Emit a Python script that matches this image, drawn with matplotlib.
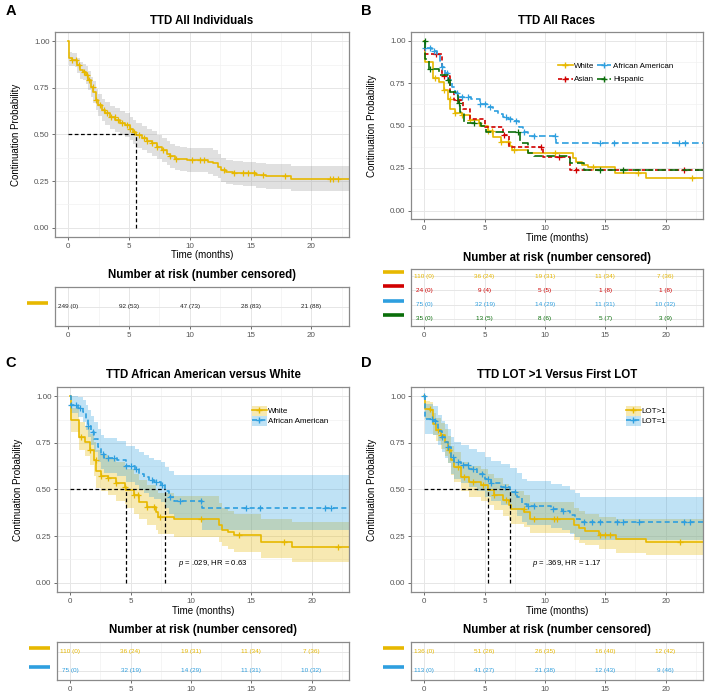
import numpy as np
import matplotlib
matplotlib.use('Agg')
import matplotlib.pyplot as plt
import matplotlib.transforms as mtransforms
from matplotlib.patches import Patch
from matplotlib.lines import Line2D

plt.rcParams['font.family'] = ['Liberation Sans', 'DejaVu Sans']
plt.rcParams['mathtext.fontset'] = 'custom'
plt.rcParams['mathtext.it'] = 'Liberation Sans:italic'
plt.rcParams['mathtext.rm'] = 'Liberation Sans'

# ---- values ----
t_end = 23.1
month_ticks = [0, 5, 10, 15, 20]
prob_ticks = [0, 0.25, 0.5, 0.75, 1.0]
prob_labels = ['0.00', '0.25', '0.50', '0.75', '1.00']

# A: all individuals (step times, survival, confidence band)
all_t = [0, 0.05, 0.27, 0.55, 0.74, 0.96, 1.23, 1.45, 1.64, 1.84, 2.05, 2.27, 2.47, 2.74,
         3.01, 3.42, 3.84, 4.25, 4.66, 5.07, 5.34, 5.56, 6.03, 6.44, 6.85, 7.26, 7.67,
         8.08, 8.36, 8.77, 9.18, 9.73, 11.51, 11.92, 12.33, 12.6, 13.01, 13.56, 14.38,
         15.48, 16.3, 18.36]
all_s = [1.0, 0.91, 0.902, 0.898, 0.871, 0.845, 0.834, 0.818, 0.791, 0.755, 0.729, 0.684,
         0.657, 0.63, 0.613, 0.595, 0.577, 0.563, 0.55, 0.532, 0.514, 0.496, 0.479, 0.466,
         0.452, 0.434, 0.416, 0.398, 0.384, 0.371, 0.366, 0.362, 0.354, 0.345, 0.327,
         0.309, 0.30, 0.295, 0.291, 0.282, 0.277, 0.261]
all_lo = [1.0, 0.87, 0.865, 0.86, 0.83, 0.80, 0.79, 0.77, 0.74, 0.70, 0.67, 0.63, 0.60,
          0.57, 0.55, 0.53, 0.515, 0.50, 0.485, 0.47, 0.45, 0.43, 0.415, 0.40, 0.385, 0.37,
          0.35, 0.335, 0.32, 0.31, 0.305, 0.30, 0.29, 0.28, 0.265, 0.245, 0.235, 0.23,
          0.225, 0.215, 0.21, 0.195]
all_hi = [1.0, 0.945, 0.94, 0.935, 0.91, 0.89, 0.88, 0.865, 0.84, 0.81, 0.785, 0.745,
          0.715, 0.69, 0.675, 0.655, 0.64, 0.625, 0.615, 0.595, 0.58, 0.56, 0.545, 0.53,
          0.52, 0.50, 0.48, 0.465, 0.45, 0.44, 0.435, 0.43, 0.425, 0.415, 0.395, 0.375,
          0.365, 0.36, 0.355, 0.345, 0.34, 0.33]
all_cens = [0.3, 0.6, 0.9, 1.3, 1.5, 1.7, 2.0, 2.3, 2.6, 2.9, 3.2, 3.5, 3.8, 4.1, 4.4, 4.8,
            5.1, 5.4, 5.8, 6.2, 6.5, 6.9, 7.3, 7.8, 8.4, 8.9, 10.2, 10.8, 11.2, 12.8, 13.6,
            14.4, 14.8, 15.3, 16.0, 17.8, 21.5, 21.8, 22.2]
all_median = [5.56]

# White
white_t = [0, 0.05, 0.75, 1.2, 1.6, 1.95, 2.15, 2.55, 3.1, 3.8, 4.5, 4.64, 5.3, 5.7, 6.4,
           7.1, 7.25, 8.6, 12.3, 12.6, 13.1, 13.6, 15.8, 18.4]
white_s = [1.0, 0.875, 0.78, 0.755, 0.71, 0.656, 0.60, 0.575, 0.56, 0.535, 0.513, 0.495,
           0.47, 0.433, 0.405, 0.38, 0.353, 0.34, 0.31, 0.285, 0.27, 0.255, 0.22, 0.19]
white_lo = [1.0, 0.81, 0.71, 0.68, 0.63, 0.57, 0.51, 0.49, 0.47, 0.44, 0.42, 0.40, 0.37,
            0.34, 0.31, 0.285, 0.26, 0.245, 0.22, 0.195, 0.18, 0.165, 0.135, 0.11]
white_hi = [1.0, 0.94, 0.86, 0.84, 0.80, 0.755, 0.71, 0.685, 0.67, 0.645, 0.625, 0.61,
            0.585, 0.55, 0.525, 0.50, 0.48, 0.465, 0.43, 0.40, 0.385, 0.37, 0.34, 0.326]
white_cens = [0.9, 1.6, 2.1, 2.55, 3.1, 3.8, 4.5, 5.3, 5.6, 6.4, 6.95, 7.4, 10.8, 14.0, 17.7, 22.2]

# African American
aa_t = [0, 0.05, 0.63, 1.04, 1.3, 1.5, 1.7, 2.0, 2.3, 2.55, 2.8, 3.9, 4.6, 5.4, 5.7, 6.1,
        6.5, 6.95, 7.5, 7.83, 8.2, 8.6, 10.95]
aa_s = [1.0, 0.955, 0.94, 0.915, 0.88, 0.843, 0.807, 0.77, 0.727, 0.69, 0.67, 0.656, 0.624,
        0.61, 0.585, 0.567, 0.55, 0.54, 0.525, 0.49, 0.46, 0.437, 0.40]
aa_lo = [1.0, 0.91, 0.89, 0.86, 0.82, 0.78, 0.74, 0.70, 0.65, 0.61, 0.59, 0.575, 0.54,
         0.525, 0.50, 0.48, 0.46, 0.45, 0.435, 0.40, 0.37, 0.345, 0.28]
aa_hi = [1.0, 1.0, 0.995, 0.98, 0.955, 0.925, 0.895, 0.86, 0.825, 0.79, 0.775, 0.76,
         0.735, 0.72, 0.70, 0.685, 0.67, 0.66, 0.65, 0.62, 0.60, 0.58, 0.576]
aa_cens = [0.1, 0.5, 0.77, 1.5, 1.9, 2.7, 3.1, 3.65, 4.6, 5.0, 5.45, 6.8, 7.1, 7.6, 8.3,
           9.1, 10.8, 14.6, 15.7, 21.1, 21.6]

# Asian
asian_t = [0, 0.05, 1.5, 2.1, 2.5, 3.2, 3.8, 5.0, 6.5, 7.0, 9.8, 12.1]
asian_s = [1.0, 0.92, 0.79, 0.70, 0.65, 0.60, 0.54, 0.493, 0.444, 0.376, 0.317, 0.239]
asian_cens = [1.0, 1.6, 2.8, 6.6, 9.7, 11.2, 12.6, 21.5]

# Hispanic
hisp_t = [0, 0.05, 0.4, 1.2, 2.0, 2.1, 2.8, 3.0, 3.3, 4.7, 5.1, 7.9, 8.6, 9.1, 12.1, 13.2]
hisp_s = [1.0, 0.89, 0.835, 0.797, 0.767, 0.70, 0.63, 0.58, 0.513, 0.497, 0.464, 0.395,
          0.337, 0.32, 0.278, 0.239]
hisp_cens = [0.02, 0.5, 2.0, 2.9, 4.1, 7.8, 14.6, 16.5]

wa_median = [4.64, 7.83]

# LOT > 1
lot2_t = [0, 0.05, 0.45, 0.7, 1.0, 1.4, 1.7, 1.95, 2.2, 2.5, 3.05, 3.7, 4.7, 5.25, 5.8,
          6.5, 7.0, 7.2, 8.3, 8.8, 12.4, 12.8, 13.3, 14.5, 15.9, 18.4]
lot2_s = [1.0, 0.93, 0.925, 0.85, 0.82, 0.79, 0.754, 0.71, 0.656, 0.62, 0.567, 0.54, 0.522,
          0.495, 0.47, 0.442, 0.415, 0.397, 0.38, 0.343, 0.31, 0.295, 0.278, 0.255, 0.237, 0.22]
lot2_lo = [1.0, 0.88, 0.875, 0.79, 0.76, 0.72, 0.68, 0.64, 0.58, 0.54, 0.49, 0.46, 0.44,
           0.415, 0.39, 0.36, 0.335, 0.315, 0.30, 0.265, 0.23, 0.215, 0.2, 0.18, 0.16, 0.148]
lot2_hi = [1.0, 0.975, 0.97, 0.91, 0.885, 0.855, 0.825, 0.785, 0.735, 0.70, 0.65, 0.625,
           0.61, 0.585, 0.56, 0.53, 0.505, 0.49, 0.47, 0.435, 0.40, 0.385, 0.37, 0.35, 0.34, 0.34]
lot2_cens = [0.44, 1.13, 1.4, 2.09, 2.77, 3.32, 4.0, 4.84, 5.8, 6.76, 8.27, 9.1, 10.74,
             11.0, 14.6, 15.0, 15.4, 21.2]

# LOT = 1
lot1_t = [0, 0.05, 0.7, 1.1, 1.45, 1.7, 1.95, 2.2, 2.5, 3.05, 3.7, 4.4, 5.0, 5.5, 6.35,
          7.14, 7.7, 8.1, 8.55, 10.5, 11.4, 12.1, 12.5, 12.9]
lot1_s = [1.0, 0.88, 0.865, 0.816, 0.78, 0.754, 0.727, 0.674, 0.647, 0.63, 0.61, 0.585,
          0.558, 0.535, 0.513, 0.487, 0.46, 0.424, 0.41, 0.397, 0.385, 0.362, 0.344, 0.326]
lot1_lo = [1.0, 0.80, 0.79, 0.74, 0.70, 0.67, 0.64, 0.585, 0.555, 0.535, 0.515, 0.49,
           0.46, 0.44, 0.415, 0.39, 0.36, 0.325, 0.31, 0.295, 0.285, 0.26, 0.245, 0.23]
lot1_hi = [1.0, 0.96, 0.95, 0.90, 0.87, 0.85, 0.825, 0.78, 0.755, 0.74, 0.72, 0.70,
           0.675, 0.655, 0.635, 0.615, 0.59, 0.555, 0.545, 0.53, 0.52, 0.50, 0.48, 0.46]
lot1_cens = [0.0, 0.6, 0.9, 1.5, 2.0, 2.4, 2.8, 3.2, 3.6, 4.0, 4.8, 5.3, 5.5, 6.7, 7.5,
             8.6, 9.1, 10.7, 11.5, 13.2, 13.9, 14.6, 16.0, 16.5, 17.8, 21.5, 22.0]
lot_median = [5.25, 7.14]

risk_times = [0, 5, 10, 15, 20]
risk_all = ['249 (0)', '92 (53)', '47 (73)', '28 (83)', '21 (88)']
risk_white = ['110 (0)', '36 (24)', '19 (31)', '11 (34)', '7 (36)']
risk_asian = ['24 (0)', '9 (4)', '5 (5)', '1 (8)', '1 (8)']
risk_aa = ['75 (0)', '32 (19)', '14 (29)', '11 (31)', '10 (32)']
risk_hisp = ['35 (0)', '13 (5)', '8 (6)', '5 (7)', '3 (9)']
risk_lot2 = ['136 (0)', '51 (26)', '26 (35)', '16 (40)', '12 (42)']
risk_lot1 = ['113 (0)', '41 (27)', '21 (38)', '12 (43)', '9 (46)']

YEL = '#E7B800'
BLU = '#2E9FDF'
RED = '#D10000'
GRN = '#0A6E0A'

W, H = 709, 696
fig = plt.figure(figsize=(W / 100, H / 100), dpi=100)


def rect(l, t, r, b):
    return [l / W, 1 - b / H, (r - l) / W, (b - t) / H]


def style(ax):
    ax.set_xlim(-1.1, t_end)
    ax.set_xticks(month_ticks)
    ax.set_xticks([2.5, 7.5, 12.5, 17.5, 22.5], minor=True)
    ax.grid(which='major', color='#e6e6e6', lw=0.7)
    ax.grid(which='minor', color='#f2f2f2', lw=0.5)
    ax.set_axisbelow(True)
    for sp in ax.spines.values():
        sp.set_color('#8a8a8a')
        sp.set_linewidth(0.9)
    ax.tick_params(which='major', length=2.5, width=0.6, color='#555555',
                   labelsize=5.8, labelcolor='#555555', pad=1.5)
    ax.tick_params(which='minor', length=0)


def km_axes(box, title):
    ax = fig.add_axes(rect(*box))
    style(ax)
    ax.set_ylim(-0.05, 1.05)
    ax.set_yticks(prob_ticks)
    ax.set_yticklabels(prob_labels)
    ax.set_yticks([0.125, 0.375, 0.625, 0.875], minor=True)
    l, t, r, b = box
    fig.text((l + r) / 2 / W, 1 - (t - 11.5) / H, title, ha='center', va='center',
             fontsize=8.3, fontweight='bold')
    fig.text((l - 39) / W, 1 - (t + b) / 2 / H, 'Continuation Probability', rotation=90,
             ha='center', va='center', fontsize=7)
    return ax


def km(ax, t, s, color, ls='-', cens=(), lo=None, hi=None, band_color=None):
    tt = list(t) + [t_end]
    ss = list(s) + [s[-1]]
    if lo is not None:
        ax.fill_between(tt, list(lo) + [lo[-1]], list(hi) + [hi[-1]], step='post',
                        color=band_color or color, alpha=0.3, lw=0)
    ax.step(tt, ss, where='post', color=color, lw=1.2, ls=ls)
    if len(cens):
        idx = np.searchsorted(t, cens, side='right') - 1
        ax.plot(cens, np.array(s)[idx], '+', color=color, ms=4.5, mew=0.9)


def medians(ax, meds):
    kw = dict(color='black', lw=0.9, ls=(0, (3, 2)))
    ax.plot([0, max(meds)], [0.5, 0.5], **kw)
    for m in meds:
        ax.plot([m, m], [0, 0.5], **kw)


def risk_table(box, xlabel_y, rows, colors, text_colors=None):
    ax = fig.add_axes(rect(*box))
    style(ax)
    n = len(rows)
    ax.set_ylim(0.5, n + 0.5)
    ax.set_yticks(range(1, n + 1))
    ax.set_yticklabels([])
    ax.tick_params(axis='y', length=0)
    l, t, r, b = box
    trans = mtransforms.blended_transform_factory(fig.transFigure, ax.transData) + \
        mtransforms.ScaledTranslation(0, 0.04, fig.dpi_scale_trans)
    text_colors = text_colors or colors
    for i, (row, c, tc) in enumerate(zip(rows, colors, text_colors)):
        y = n - i
        for x, lab in zip(risk_times, row):
            ax.text(x, y, lab, ha='center', va='center', fontsize=4.6, color=tc)
        ax.plot([(l - 28) / W, (l - 7) / W], [y, y], transform=trans, color=c, lw=2.6,
                solid_capstyle='butt', clip_on=False)
    fig.text((l + r) / 2 / W, 1 - (t - 11.5) / H, 'Number at risk (number censored)',
             ha='center', va='center', fontsize=8.3, fontweight='bold')
    fig.text((l + r) / 2 / W, 1 - xlabel_y / H, 'Time (months)', ha='center',
             va='center', fontsize=7)
    return ax


def band_legend(labels, lss, anchor):
    handles = []
    for c, ls in zip([YEL, BLU], lss):
        handles.append((Patch(facecolor=c, alpha=0.3, lw=0),
                        Line2D([], [], color=c, lw=1.2, ls=ls, marker='+', ms=4.5)))
    fig.legend(handles, labels, loc='upper left', bbox_to_anchor=anchor, frameon=False,
               fontsize=5.8, handlelength=1.8, handleheight=1.45, handletextpad=0.15,
               labelspacing=0.05, borderpad=0, borderaxespad=0)


# ---- A ----
axA = km_axes((55, 32, 349, 237), 'TTD All Individuals')
km(axA, all_t, all_s, YEL, cens=all_cens, lo=all_lo, hi=all_hi, band_color='#999999')
medians(axA, all_median)
risk_table((55, 287, 349, 326), 255, [risk_all], [YEL], ['#222222'])

# ---- B ----
axB = km_axes((411, 32, 703, 219), 'TTD All Races')
km(axB, white_t, white_s, YEL, cens=white_cens)
km(axB, asian_t, asian_s, RED, ls=(0, (2.5, 1.5)), cens=asian_cens)
km(axB, aa_t, aa_s, BLU, ls=(0, (4, 2)), cens=aa_cens)
km(axB, hisp_t, hisp_s, GRN, ls=(0, (5, 2.5)), cens=hisp_cens)
hB = [Line2D([], [], color=YEL, lw=1.2, marker='+', ms=4.5),
      Line2D([], [], color=RED, lw=1.2, ls=(0, (2.5, 1.5)), marker='+', ms=4.5),
      Line2D([], [], color=BLU, lw=1.2, ls=(0, (4, 2)), marker='+', ms=4.5),
      Line2D([], [], color=GRN, lw=1.2, ls=(0, (5, 2.5)), marker='+', ms=4.5)]
fig.legend(hB, ['White', 'Asian', 'African American', 'Hispanic'], ncol=2,
           loc='upper left', bbox_to_anchor=(558 / W, 1 - 62 / H), frameon=False,
           fontsize=5.8, handlelength=1.8, handletextpad=0.2, columnspacing=0.3,
           labelspacing=0.75, borderpad=0, borderaxespad=0)
risk_table((411, 269, 703, 326), 238, [risk_white, risk_asian, risk_aa, risk_hisp],
           [YEL, RED, BLU, GRN])

# ---- C ----
axC = km_axes((57, 387, 349, 592), 'TTD African American versus White')
km(axC, white_t, white_s, YEL, cens=white_cens, lo=white_lo, hi=white_hi)
km(axC, aa_t, aa_s, BLU, ls=(0, (3, 2)), cens=aa_cens, lo=aa_lo, hi=aa_hi)
medians(axC, wa_median)
axC.text(0.415, 0.14, r'$\it{p}$ = .029, HR = 0.63', transform=axC.transAxes, fontsize=5.6,
         ha='left', va='center')
band_legend(['White', 'African American'], ['-', (0, (3, 2))], (252 / W, 1 - 406 / H))
risk_table((57, 642, 349, 680), 611, [risk_white, risk_aa], [YEL, BLU])

# ---- D ----
axD = km_axes((411, 387, 703, 592), 'TTD LOT >1 Versus First LOT')
km(axD, lot2_t, lot2_s, YEL, cens=lot2_cens, lo=lot2_lo, hi=lot2_hi)
km(axD, lot1_t, lot1_s, BLU, ls=(0, (3, 2)), cens=lot1_cens, lo=lot1_lo, hi=lot1_hi)
medians(axD, lot_median)
axD.text(0.415, 0.14, r'$\it{p}$ = .369, HR = 1.17', transform=axD.transAxes, fontsize=5.6,
         ha='left', va='center')
band_legend(['LOT>1', 'LOT=1'], ['-', (0, (3, 2))], (626 / W, 1 - 406 / H))
risk_table((411, 642, 703, 680), 611, [risk_lot2, risk_lot1], [YEL, BLU])

# panel letters
for lab, x, y in [('A', 11, 11), ('B', 366, 11), ('C', 11, 363), ('D', 366, 363)]:
    fig.text(x / W, 1 - y / H, lab, ha='center', va='center', fontsize=10.5, fontweight='bold')

fig.savefig('out.png', dpi=100)
